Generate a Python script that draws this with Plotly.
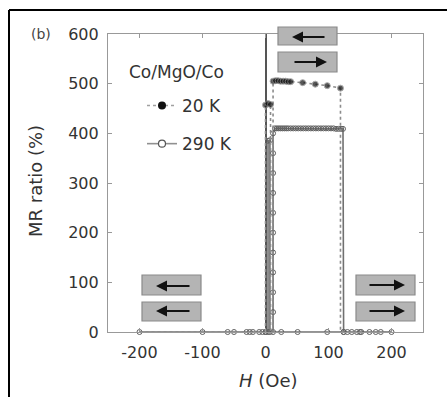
import plotly.graph_objects as go

# ---- data: MR loops of Co/MgO/Co (field H in Oe, MR ratio in %) ----
H_20K = [-200, -100, -50, 0, 0, 4, 8, 8, 12, 12, 16, 20, 24, 28, 32, 36, 40,
         59, 79, 98, 119, 119, 125, 150, 200]
MR_20K = [0, 0, 0, 0, 457, 460, 458, 0, 0, 505, 506, 506, 505, 505, 505, 504, 504,
          502, 499, 496, 491, 0, 0, 0, 0]

H_290K = [-200, -100, -50, -30, -20, -10, -5, 0, 4, 4, 7, 7,
          12, 12, 12, 12, 12, 12, 12, 12, 12, 12, 12,
          15, 18, 21, 24, 27, 30, 33, 36, 40, 44, 48, 52, 56, 60, 64, 68, 72,
          76, 80, 84, 88, 92, 96, 100, 104, 108, 112, 116, 120, 123, 124,
          130, 137, 145, 152, 165, 183, 200,
          175, 150, 124, 98, 51, 25, 0, -25, -60]
MR_290K = [0, 0, 0, 0, 0, 0, 0, 0, 0, 385, 386, 0,
           0, 40, 80, 120, 160, 200, 240, 280, 320, 360, 400,
           410, 410, 410, 410, 410, 410, 410, 410, 410, 410, 410, 410, 410, 410, 410, 410, 410,
           410, 410, 410, 410, 410, 410, 410, 410, 410, 409, 409, 409, 409, 0,
           0, 0, 0, 0, 0, 0, 0,
           0, 0, 0, 0, 0, 0, 0, 0, 0]

x_ticks = [-200, -100, 0, 100, 200]
x_ticklabels = ["-200", "-100", "0", "100", "200"]
y_ticks = [0, 100, 200, 300, 400, 500, 600]
y_ticklabels = ["0", "100", "200", "300", "400", "500", "600"]

FONT = "DejaVu Sans"
TXT = "#333333"

# figure geometry (pixels) used to place the decorative elements
W, HGT = 447, 397
L, R, T, B = 108, 24, 34, 65
PW, PH = W - L - R, HGT - T - B


def px(x):
    return (x - L) / PW


def py(y):
    return (HGT - B - y) / PH


fig = go.Figure()

# 290 K: solid grey line with open circles
fig.add_trace(go.Scatter(
    x=H_290K, y=MR_290K, mode="lines+markers", showlegend=False,
    line=dict(color="#707070", width=1.6),
    marker=dict(symbol="circle-open", size=5, color="#606060", line=dict(width=1)),
    cliponaxis=False,
))

# 20 K: dotted line with filled black circles
fig.add_trace(go.Scatter(
    x=H_20K, y=MR_20K, mode="lines+markers", showlegend=False,
    line=dict(color="#8c8c8c", width=1.6, dash="dot"),
    marker=dict(symbol="circle", color="#111111",
                size=[6 if v > 0 else 0 for v in MR_20K]),
    cliponaxis=False,
))

# legend entries
fig.add_trace(go.Scatter(
    x=[None], y=[None], mode="lines+markers", name="20 K", legendgroup="a",
    line=dict(color="#a0a0a0", width=1.6, dash="dot"),
    marker=dict(symbol="circle", color="#111111", size=8),
))
fig.add_trace(go.Scatter(
    x=[None], y=[None], mode="lines+markers", name="290 K", legendgroup="b",
    line=dict(color="#909090", width=1.6),
    marker=dict(symbol="circle", color="white", size=7,
                line=dict(color="#555555", width=1.2)),
))

shapes = []
annotations = []

# outer frame (top and left edges)
shapes.append(dict(type="line", xref="paper", yref="paper",
                   x0=px(9), x1=px(450), y0=py(10), y1=py(10),
                   line=dict(color="black", width=2)))
shapes.append(dict(type="line", xref="paper", yref="paper",
                   x0=px(9), x1=px(9), y0=py(10), y1=py(400),
                   line=dict(color="black", width=2)))


def stripe(x0, x1, y0, y1):
    shapes.append(dict(type="rect", xref="paper", yref="paper",
                       x0=px(x0), x1=px(x1), y0=py(y1), y1=py(y0),
                       fillcolor="#b4b4b4", line=dict(color="#8a8a8a", width=1.2),
                       layer="above"))


def arrow(x_tail, x_head, y):
    annotations.append(dict(xref="paper", yref="paper",
                            x=px(x_head), y=py(y), ax=x_tail - x_head, ay=0,
                            text="", showarrow=True, arrowhead=2, arrowsize=1,
                            arrowwidth=2.2, arrowcolor="#111111"))


# magnetization configuration sketches
# antiparallel (top)
stripe(278, 337, 27, 45)
stripe(278, 337, 52, 72)
arrow(326, 292, 37)
arrow(293, 327, 62)
# parallel, negative field (left)
stripe(142, 201, 275, 295)
stripe(142, 201, 302, 321)
arrow(191, 156, 286)
arrow(191, 156, 311)
# parallel, positive field (right)
stripe(356, 415, 275, 295)
stripe(356, 415, 302, 321)
arrow(368, 405, 285)
arrow(368, 405, 311)

# texts
annotations.append(dict(xref="paper", yref="paper", x=px(127), y=py(72),
                        xanchor="left", yanchor="middle", showarrow=False,
                        text="Co/MgO/Co", font=dict(family=FONT, size=17, color=TXT)))
annotations.append(dict(xref="paper", yref="paper", x=px(41), y=py(34),
                        xanchor="center", yanchor="middle", showarrow=False,
                        text="(b)", font=dict(family=FONT, size=14, color="#444444")))
annotations.append(dict(xref="paper", yref="paper", x=px(35), y=py(181),
                        xanchor="center", yanchor="middle", showarrow=False,
                        textangle=-90, text="MR ratio (%)",
                        font=dict(family=FONT, size=18, color=TXT)))
annotations.append(dict(xref="paper", yref="paper", x=px(268), y=py(380),
                        xanchor="center", yanchor="middle", showarrow=False,
                        text="<i>H</i> (Oe)",
                        font=dict(family=FONT, size=18, color=TXT)))

axis_common = dict(
    showline=True, linecolor="#999999", linewidth=1.2, mirror="ticks",
    ticks="inside", ticklen=4, tickcolor="#999999", tickwidth=1,
    showgrid=False, tickfont=dict(family=FONT, size=16, color=TXT),
)

fig.update_layout(
    width=W, height=HGT,
    margin=dict(l=L, r=R, t=T, b=B, pad=0),
    paper_bgcolor="white", plot_bgcolor="white",
    xaxis=dict(range=[-250, 250], tickvals=x_ticks, ticktext=x_ticklabels,
               zeroline=True, zerolinecolor="#555555", zerolinewidth=1.5,
               ticklabelstandoff=6, **axis_common),
    yaxis=dict(range=[0, 600], tickvals=y_ticks, ticktext=y_ticklabels,
               zeroline=False, ticklabelstandoff=5, **axis_common),
    showlegend=True,
    legend=dict(x=px(142), y=py(88), xanchor="left", yanchor="top",
                bgcolor="rgba(0,0,0,0)", traceorder="grouped", tracegroupgap=13,
                font=dict(family=FONT, size=17, color=TXT)),
    shapes=shapes, annotations=annotations,
)

fig.write_html("out.html")
